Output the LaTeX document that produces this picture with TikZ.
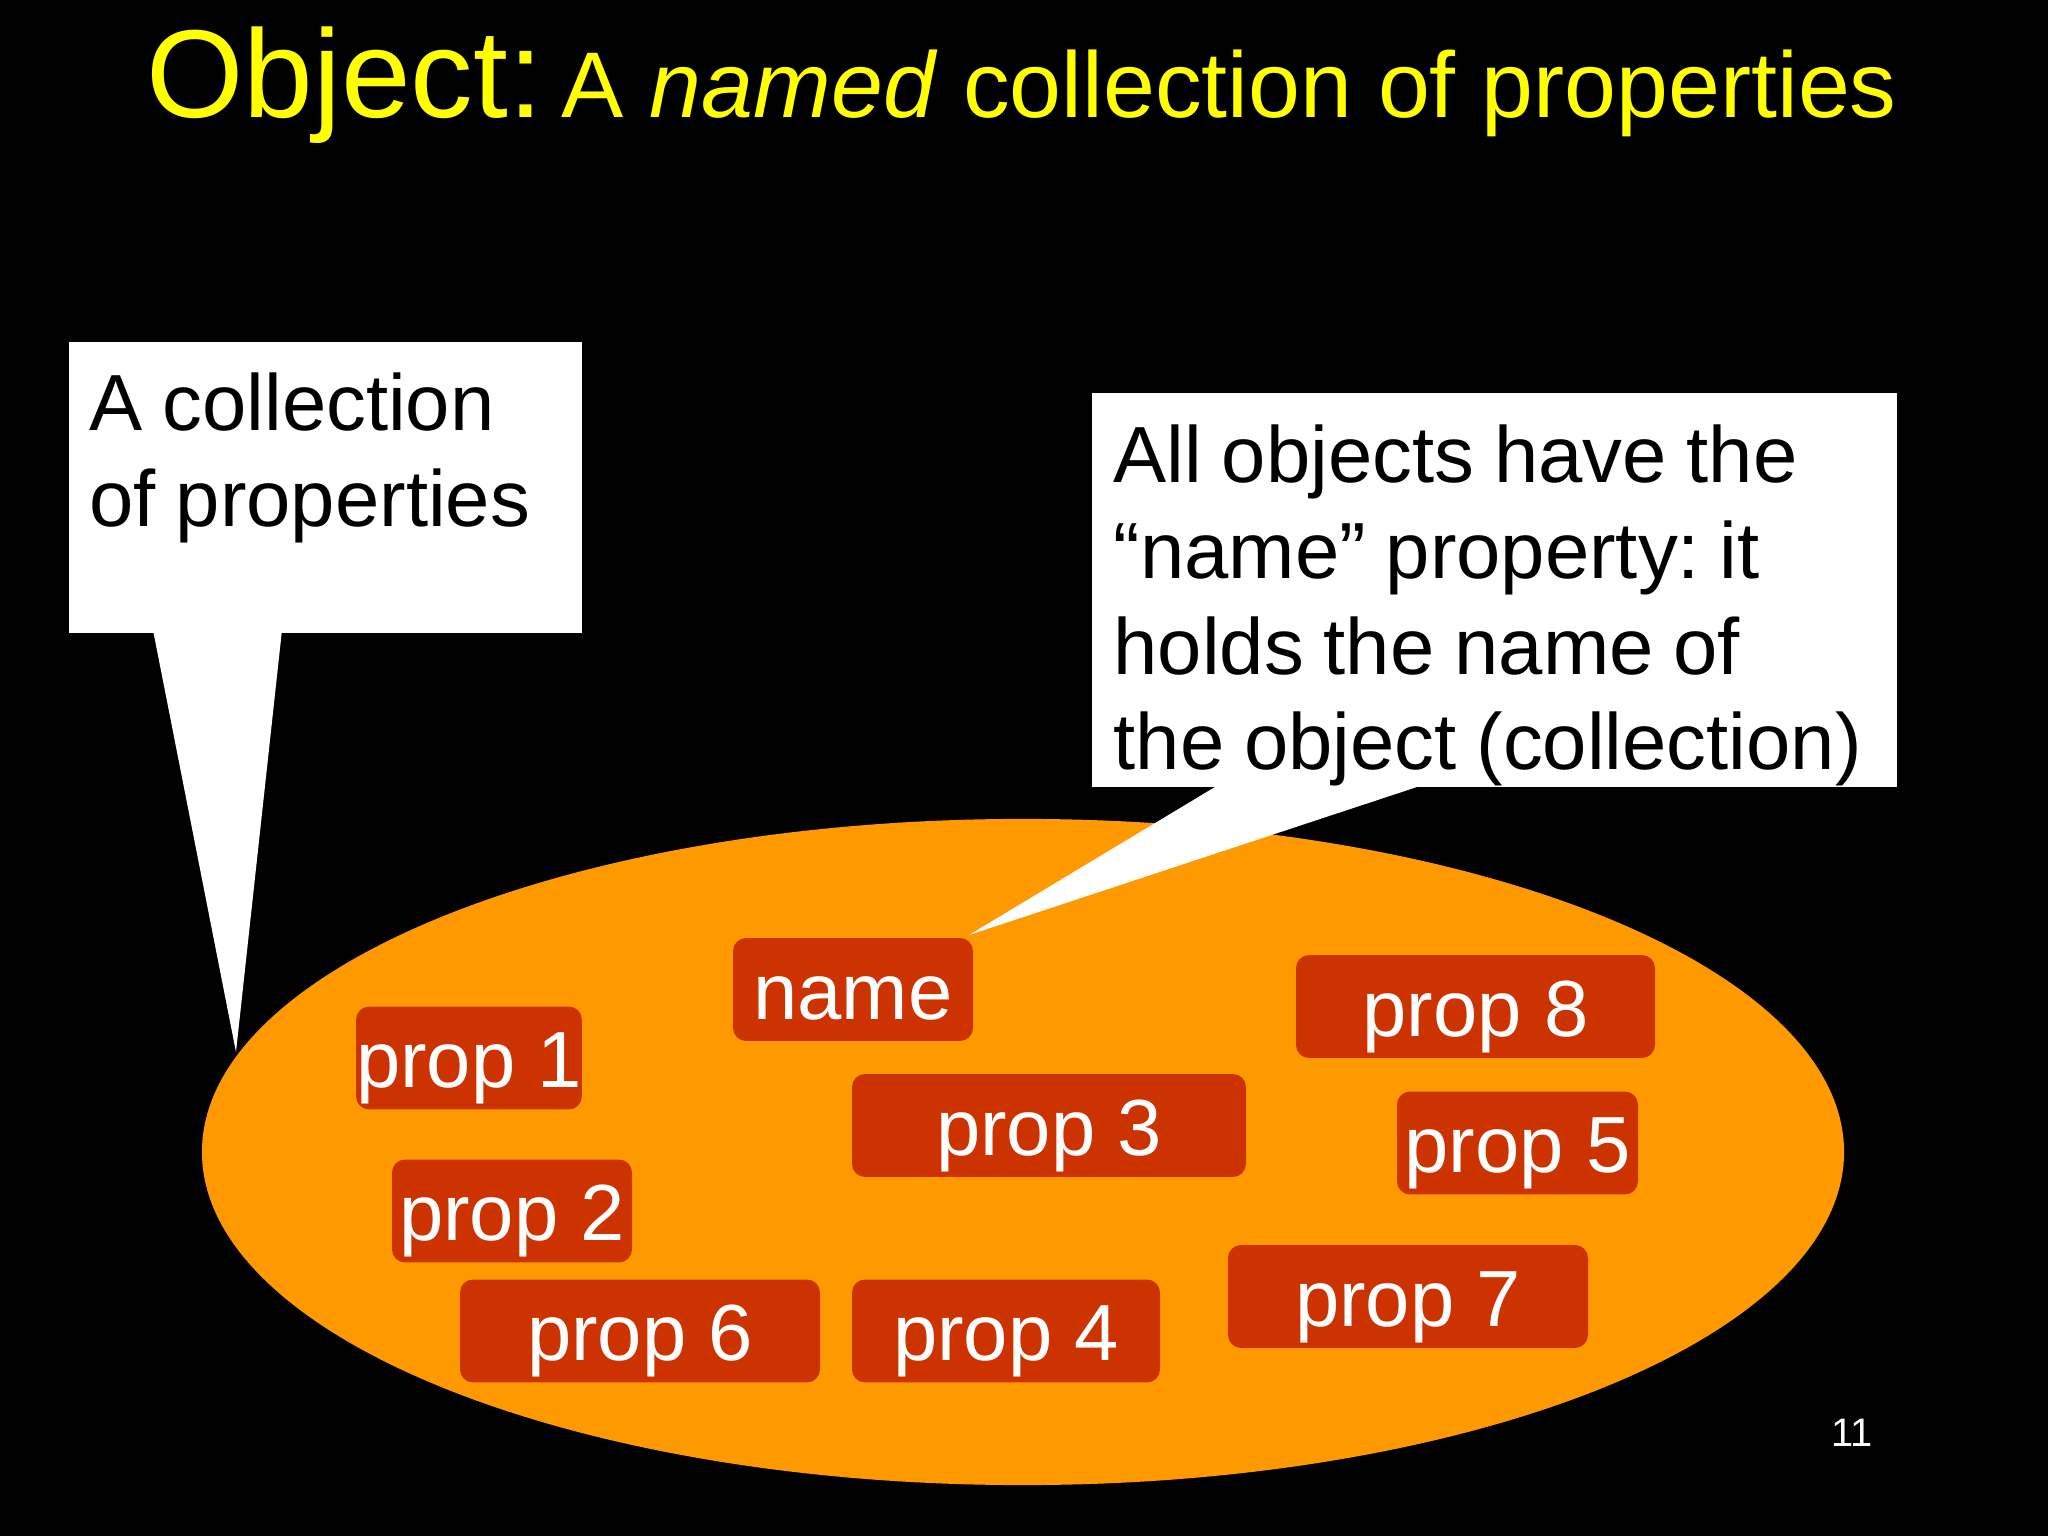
\documentclass[tikz,border=0pt]{standalone}
\usepackage{fontspec}
\setmainfont{Liberation Sans}
\usetikzlibrary{shapes.geometric}
\definecolor{orng}{HTML}{FF9900}
\definecolor{propred}{HTML}{CC3300}
\definecolor{ttl}{HTML}{FFFF00}
\newcommand\ctsp{\spaceskip=7pt\relax}
\begin{document}
\frenchspacing
\begin{tikzpicture}[x=0.3515625pt,y=-0.3515625pt,
  pbox/.style={rectangle, rounded corners=4.6pt, fill=propred, text=white, inner sep=0pt,
    text height=28.5pt, text depth=7.7pt, minimum width=#1*0.3515625pt,
    font=\fontsize{28}{33.6}\selectfont},
  cbox/.style={rectangle, fill=white, inner sep=0pt, anchor=north west},
  ctext/.style={anchor=base west, align=left, inner sep=0pt, text=black,
    font=\fontsize{28}{33.6}\selectfont}]
\fill[black] (0,0) rectangle (2048,1536);
\useasboundingbox (0,0) rectangle (2048,1536);

% title
\node[anchor=base west, text=ttl, inner sep=0pt] (title) at (146,118)
  {\fontsize{44}{52.8}\selectfont Object:\hspace{6.5pt}\fontsize{32.8}{39.4}\selectfont A \textit{named} collection of properties};

% the collection
\node[ellipse, fill=orng, inner sep=0pt, minimum width=577.3pt, minimum height=234.2pt] (coll) at (1023,1152) {};

% left callout
\node[cbox, minimum width=180.4pt, minimum height=102.3pt] (box1) at (68,341) {};
\coordinate (tip1) at (236,1052);
\fill[white] (153,630) -- (tip1) -- (282,630) -- cycle;
\node[ctext, text width=175pt] (txt1) at (89,431) {\ctsp A collection\\of properties};

% right callout
\node[cbox, minimum width=283.0pt, minimum height=138.5pt] (box2) at (1091,392) {};
\coordinate (tip2) at (969,935);
\fill[white] (1220,784) -- (tip2) -- (1426,784) -- cycle;
\node[ctext, text width=280pt] (txt2) at (1113,483)
  {\ctsp All objects have the\\“name” property: it\\holds the name of\\the object (collection)};

% properties
\node[pbox=240] (name)  at (853,989.5)  {name};
\node[pbox=224] (p1)    at (469,1058)   {prop 1};
\node[pbox=240] (p2)    at (512,1211)   {prop 2};
\node[pbox=360] (p6)    at (640,1331)   {prop 6};
\node[pbox=394] (p3)    at (1049,1125.5){prop 3};
\node[pbox=308] (p4)    at (1006,1331)  {prop 4};
\node[pbox=359] (p8)    at (1475.5,1006.5){prop 8};
\node[pbox=241] (p5)    at (1517.5,1143){prop 5};
\node[pbox=360] (p7)    at (1408,1296.5){prop 7};

% page number
\node[anchor=base east, text=white, inner sep=0pt, font=\fontsize{14}{16.8}\selectfont] (pg) at (1873,1446) {11};
\end{tikzpicture}
\end{document}
